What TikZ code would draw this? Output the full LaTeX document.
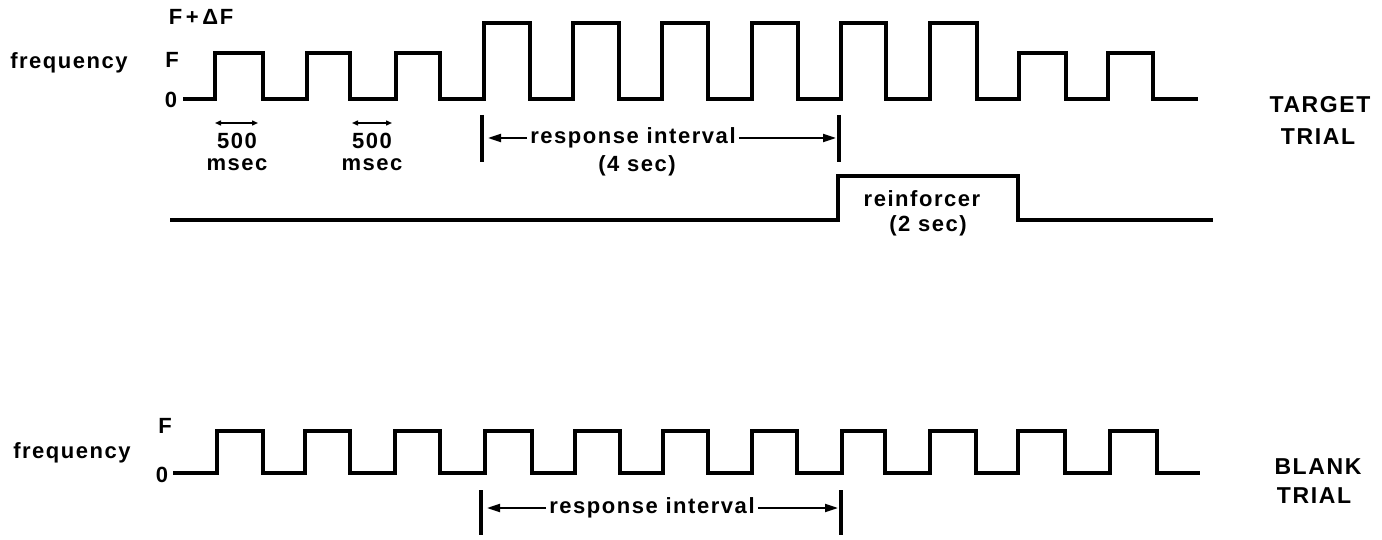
\documentclass[tikz,border=0pt]{standalone}
\usepackage{fontspec}
\setmainfont{Liberation Sans}[LetterSpace=7]
\usetikzlibrary{arrows.meta}
\begin{document}
\begin{tikzpicture}[x=1pt,y=-1pt,
  lbl/.style={font=\bfseries\fontsize{22}{24}\selectfont, inner sep=0pt, anchor=center},
  big/.style={font=\bfseries\fontsize{23}{25}\selectfont, inner sep=0pt, anchor=center},
  trace/.style={line width=3.2pt, line join=miter},
  bar/.style={line width=4.5pt},
  rarrow/.style={line width=2pt, -{Triangle[length=13pt,width=8pt]}},
  msarrow/.style={line width=1.4pt, {Triangle[length=6pt,width=5pt]}-{Triangle[length=6pt,width=5pt]}}]
\useasboundingbox (0,0) rectangle (1382,540);
% ---------------- TARGET TRIAL ----------------
\node[lbl] (freqA) at (69,63) {frequency};
\node[lbl] (fdf) at (201,17) {F\,+\,ΔF};
\node[lbl] (fA) at (172,60) {F};
\node[lbl] (zA) at (171,100) {0};
\draw[trace] (183,99) -| (215,53) -| (263,99) -| (307,53) -| (350,99) -| (396,53) -| (440,99)
  -| (484,23) -| (530,99) -| (573,23) -| (619,99) -| (662,23) -| (708,99) -| (752,23) -| (798,99)
  -| (841,23) -| (886,99) -| (930,23) -| (977,99) -| (1019,53) -| (1066,99) -| (1108,53) -| (1153,99) -- (1198,99);
% 500 msec marks
\coordinate (m1a) at (215,123); \coordinate (m1b) at (258,123);
\coordinate (m2a) at (352,123); \coordinate (m2b) at (392,123);
\draw[msarrow] (m1a) -- (m1b);
\draw[msarrow] (m2a) -- (m2b);
\node[lbl] (f1) at (237,141) {500};
\node[lbl] (ms1) at (237,165) {msec};
\node[lbl] (f2) at (372,141) {500};
\node[lbl] (ms2) at (372,165) {msec};
% response interval
\coordinate (ba1) at (482,115); \coordinate (ba2) at (482,162);
\coordinate (bb1) at (839,115); \coordinate (bb2) at (839,162);
\draw[bar] (ba1) -- (ba2);
\draw[bar] (bb1) -- (bb2);
\node[lbl] (riA) at (633,138) {response interval};
\node[lbl] (rsA) at (637,166) {(4 sec)};
\coordinate (raL) at (488,138); \coordinate (raR) at (836,138);
\draw[rarrow] (riA.west) ++(-3,0) -- (raL);
\draw[rarrow] (riA.east) ++(3,0) -- (raR);
% reinforcer
\draw[trace] (170,220) -| (838,176) -| (1018,220) -- (1213,220);
\node[lbl] (rf) at (922,199) {reinforcer};
\node[lbl] (rf2) at (928,226) {(2 sec)};
\node[big] (tg) at (1320,105) {TARGET};
\node[big] (tt) at (1318,137) {TRIAL};
% ---------------- BLANK TRIAL ----------------
\node[lbl] (freqB) at (72,453) {frequency};
\node[lbl] (fB) at (165,426) {F};
\node[lbl] (zB) at (162,475) {0};
\draw[trace] (173,473) -| (217,431) -| (263,473) -| (305,431) -| (350,473) -| (395,431) -| (440,473)
  -| (485,431) -| (532,473) -| (575,431) -| (620,473) -| (663,431) -| (708,473) -| (752,431) -| (797,473)
  -| (842,431) -| (885,473) -| (930,431) -| (976,473) -| (1018,431) -| (1065,473) -| (1110,431) -| (1157,473) -- (1200,473);
\coordinate (ca1) at (481,490); \coordinate (ca2) at (481,535);
\coordinate (cb1) at (841,490); \coordinate (cb2) at (841,535);
\draw[bar] (ca1) -- (ca2);
\draw[bar] (cb1) -- (cb2);
\node[lbl] (riB) at (652,508) {response interval};
\coordinate (rbL) at (487,508); \coordinate (rbR) at (838,508);
\draw[rarrow] (riB.west) ++(-3,0) -- (rbL);
\draw[rarrow] (riB.east) ++(3,0) -- (rbR);
\node[big] (bk) at (1318,467) {BLANK};
\node[big] (bt) at (1314,496) {TRIAL};
\end{tikzpicture}
\end{document}
